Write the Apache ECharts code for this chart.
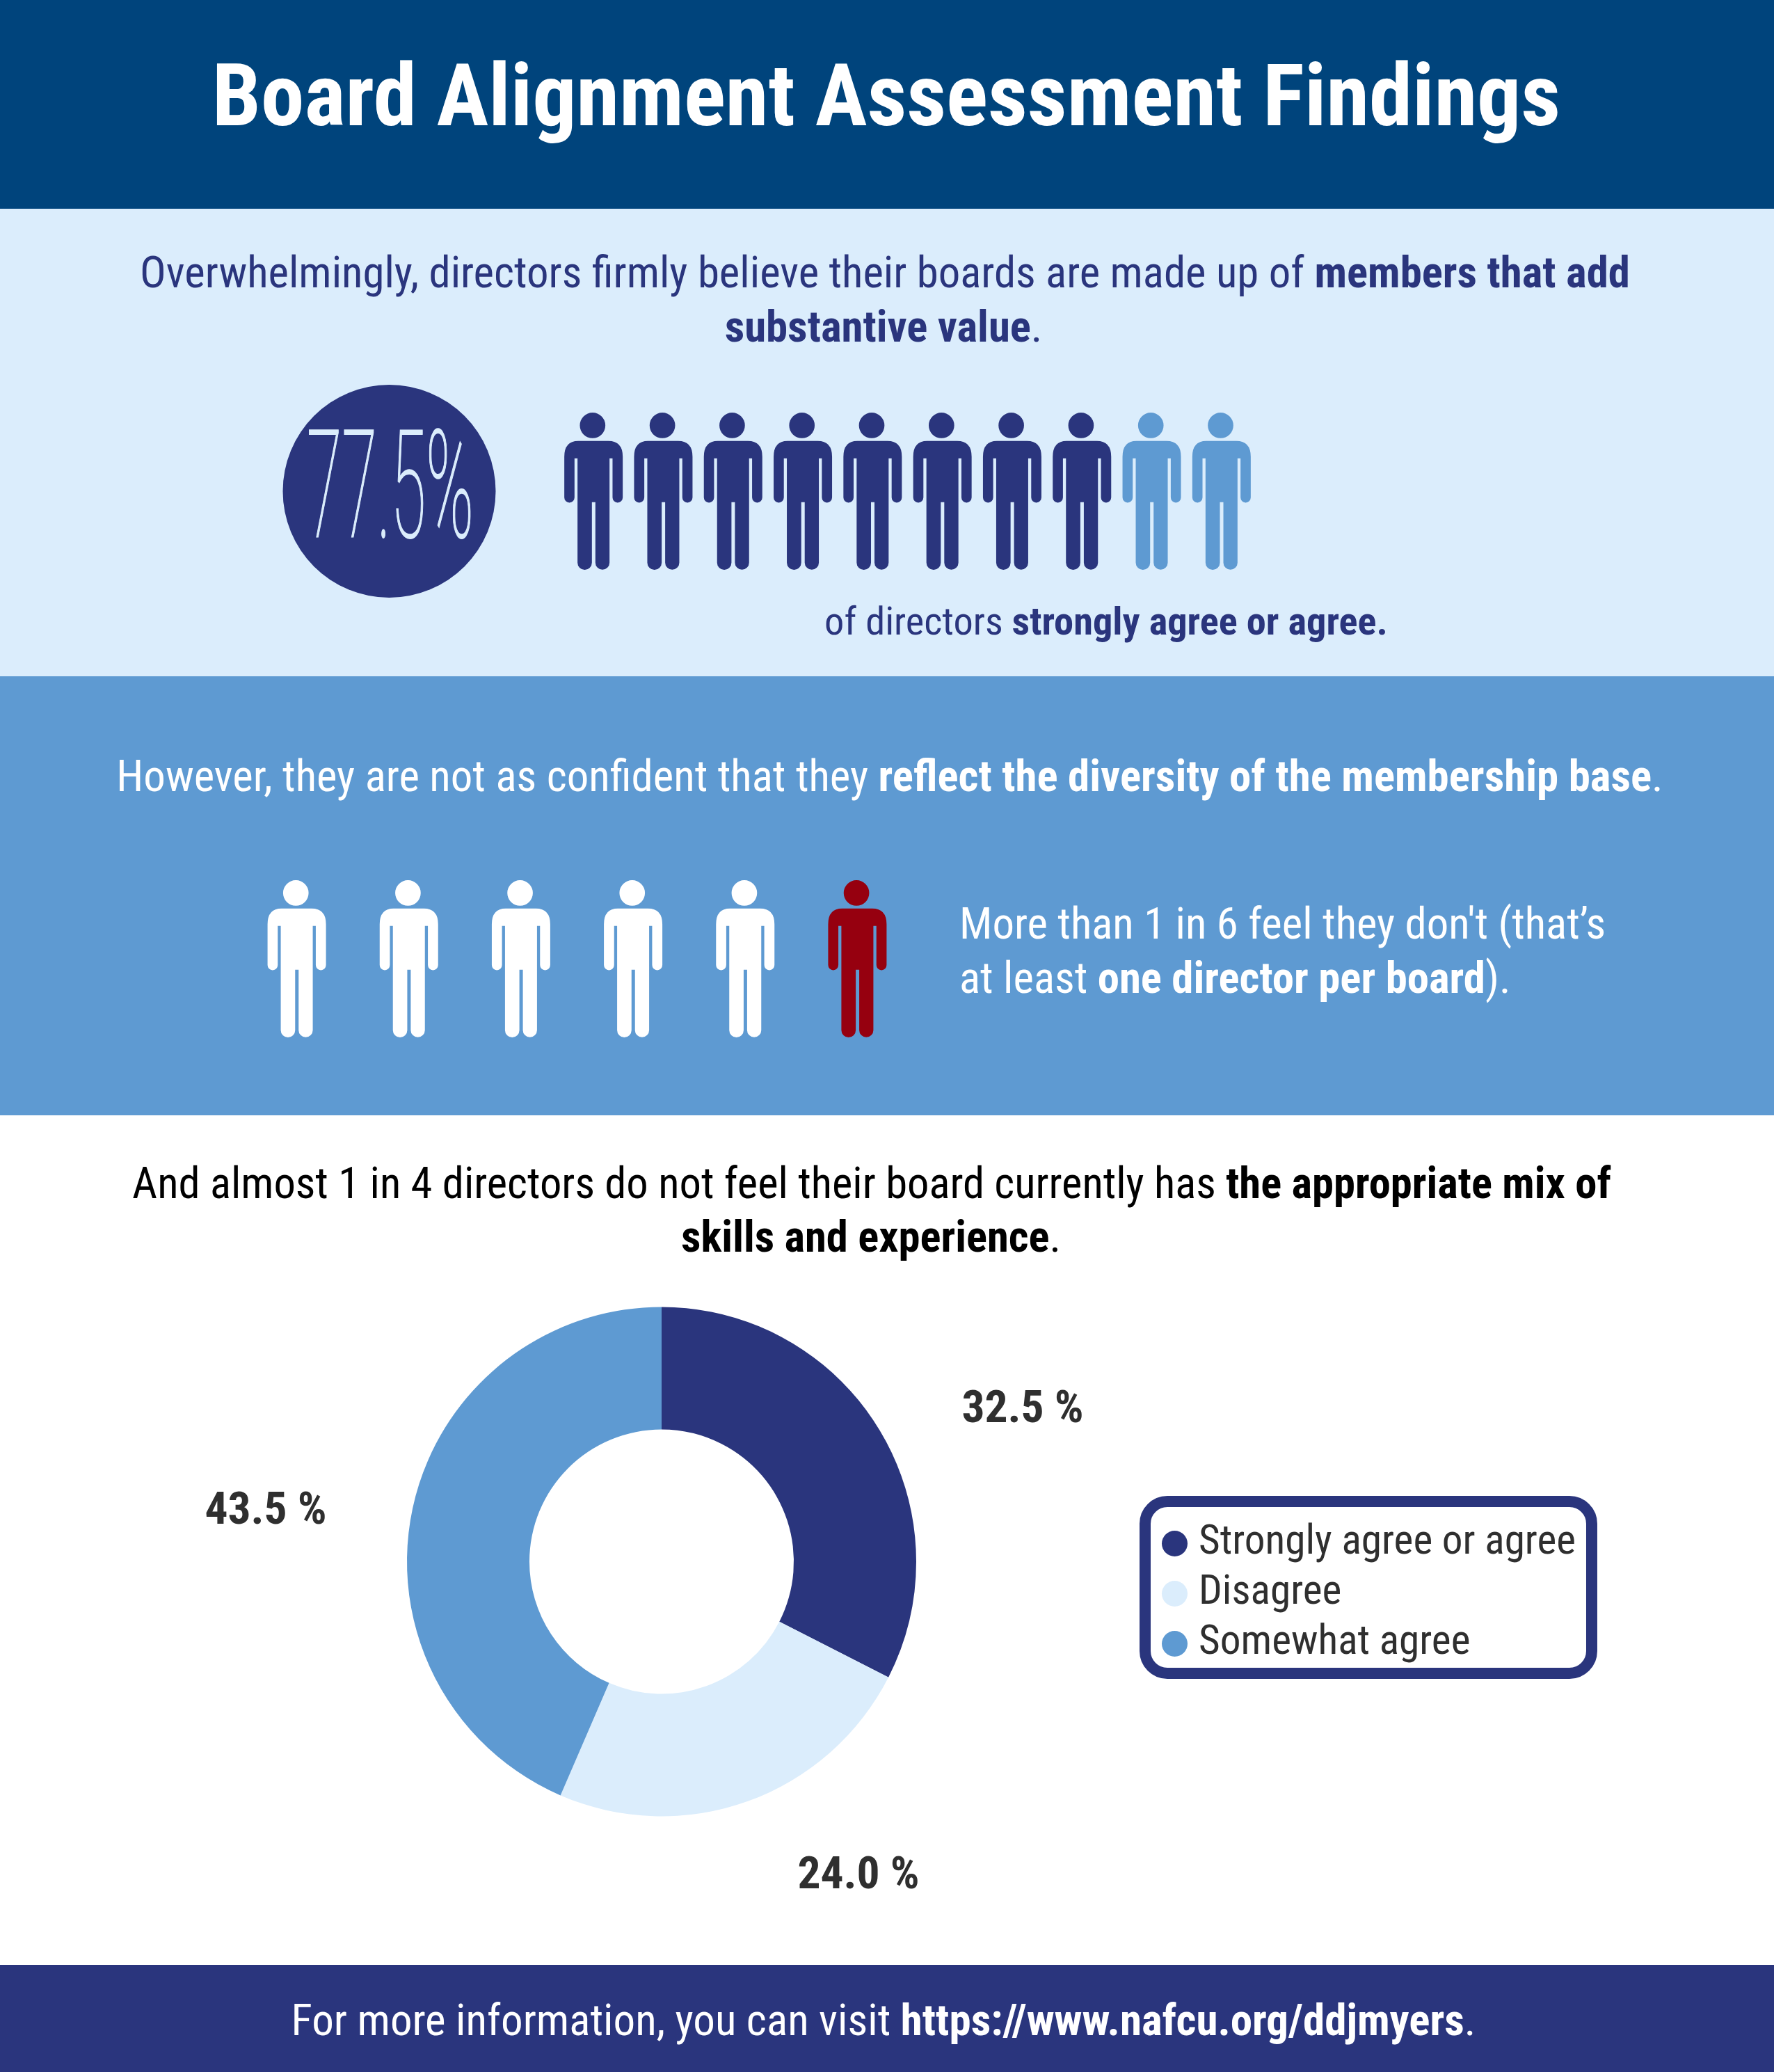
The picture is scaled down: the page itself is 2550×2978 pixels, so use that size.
<!DOCTYPE html>
<html lang="en">
<head>
<meta charset="utf-8" />
<title>Board Alignment Assessment Findings</title>
<script src="https://cdn.jsdelivr.net/npm/echarts@6/dist/echarts.min.js"></script>
</head>
<body style="margin:0;background:#fff">
<div id="chart" style="width:2550px;height:2978px"></div>
<script>
// colours
const HEADER = '#00447c', NAVY = '#2a357d', PALE = '#dbedfc', MID = '#5e9ad2', RED = '#96000f', INK = '#2f2f2f'

// donut
const answerNames = ['Strongly agree or agree', 'Disagree', 'Somewhat agree']
const answerValues = [32.5, 24.0, 43.5]
const answerColors = [NAVY, PALE, MID]
const answerLabelAt = [[1470, 2022], [1234, 2692], [382, 2168]]

// people rows, one slot per person
const valueSlots = ['1', '2', '3', '4', '5', '6', '7', '8', '9', '10']
const valueAgree = [1, 1, 1, 1, 1, 1, 1, 1, null, null]
const valueOther = [null, null, null, null, null, null, null, null, 1, 1]
const diversitySlots = ['1', '2', '3', '4', '5', '6']
const diversityYes = [1, 1, 1, 1, 1, null]
const diversityNo = [null, null, null, null, null, 1]

const statText = '77.5%'

// same figure for all people, drawn in a 252 x 675 box
const PERSON = 'path://M122 0a55 55 0 1 1 0 110a55 55 0 1 1 0-110zM60 122H190Q252 122 252 190V365A22 22 0 0 1 208 365V197H195V645A30.5 30.5 0 0 1 134 645V385H119V645A30.5 30.5 0 0 1 57 645V197H44V365A22 22 0 0 1 0 365V190Q0 122 60 122z'

const FONT = 'Roboto'
function textLine(x, y, parts, size, color, align) {
    let rich = {
        n: { fontFamily: FONT, fontStyle: 'condensed', fontWeight: 400, fontSize: size, fill: color, color: color },
        b: { fontFamily: FONT, fontStyle: 'condensed', fontWeight: 700, fontSize: size, fill: color, color: color }
    }
    return {
        type: 'text', z: 10, silent: true,
        style: {
            x: x, y: y, align: align || 'center', verticalAlign: 'middle',
            text: parts.map(p => '{' + p[0] + '|' + p[1] + '}').join(''),
            rich: rich, fill: color
        }
    }
}
function band(y, h, color) {
    return { type: 'rect', z: 0, silent: true, shape: { x: 0, y: y, width: 2550, height: h }, style: { fill: color } }
}

function peopleSeries(index, data, color) {
    return {
        type: 'pictorialBar', xAxisIndex: index, yAxisIndex: index, data: data,
        symbol: PERSON, symbolSize: [84, 226], symbolPosition: 'start', barGap: '-100%',
        itemStyle: { color: color }, silent: true, z: 5
    }
}

const chart = echarts.init(document.getElementById('chart'), null, { width: 2550, height: 2978 })
chart.setOption({
    animation: false,
    backgroundColor: '#fff',
    grid: [
        { left: 803, top: 593, width: 1003, height: 226 },
        { left: 346, top: 1265, width: 967, height: 226 }
    ],
    xAxis: [
        { type: 'category', gridIndex: 0, data: valueSlots, show: false },
        { type: 'category', gridIndex: 1, data: diversitySlots, show: false }
    ],
    yAxis: [
        { type: 'value', gridIndex: 0, min: 0, max: 1, show: false },
        { type: 'value', gridIndex: 1, min: 0, max: 1, show: false }
    ],
    legend: {
        orient: 'vertical', left: 1646, top: 2158,
        padding: [31, 23, 13, 24], itemGap: 13, itemWidth: 37, itemHeight: 37, icon: 'circle',
        backgroundColor: '#fff', borderColor: NAVY, borderWidth: 16, borderRadius: 32,
        data: answerNames, selectedMode: false,
        textStyle: { fontFamily: FONT, fontStyle: 'condensed', fontSize: 59.3, color: INK, padding: [0, 0, 0, 11], lineHeight: 37 }
    },
    series: [
        peopleSeries(0, valueAgree, NAVY),
        peopleSeries(0, valueOther, MID),
        peopleSeries(1, diversityYes, '#fff'),
        peopleSeries(1, diversityNo, RED),
        {
            type: 'pie', center: [951, 2244.5], radius: [190, 366], startAngle: 90, silent: true,
            data: answerNames.map((n, i) => ({ name: n, value: answerValues[i], itemStyle: { color: answerColors[i] } })),
            label: {
                show: true, position: 'outside',
                formatter: p => p.value.toFixed(1) + ' %',
                fontFamily: FONT, fontStyle: 'condensed', fontWeight: 700, fontSize: 65.5, color: INK
            },
            labelLine: { show: false },
            labelLayout: p => ({
                x: answerLabelAt[p.dataIndex][0], y: answerLabelAt[p.dataIndex][1] + 6,
                align: 'center', verticalAlign: 'middle'
            })
        }
    ],
    graphic: [
        band(0, 300, HEADER),
        band(300, 672, PALE),
        band(972, 631, MID),
        band(2824, 154, NAVY),
        { type: 'circle', z: 4, silent: true, shape: { cx: 559.5, cy: 706, r: 153 }, style: { fill: NAVY } },
        {
            type: 'text', z: 10, silent: true, x: 561, y: 718, scaleX: 0.429, originX: 0, originY: 0,
            style: { x: 0, y: 0, align: 'center', verticalAlign: 'middle', text: statText, fontFamily: FONT, fontWeight: 100, fontSize: 215, fill: PALE, stroke: PALE, lineWidth: 2 }
        },
        textLine(1274, 149, [['b', 'Board Alignment Assessment Findings']], 125.2, '#fff'),
        textLine(1272, 397, [['n', 'Overwhelmingly, directors firmly believe their boards are made up of '], ['b', 'members that add']], 62.8, NAVY),
        textLine(1270, 475, [['b', 'substantive value'], ['n', '.']], 62.8, NAVY),
        textLine(1590, 898, [['n', 'of directors '], ['b', 'strongly agree or agree.']], 56.4, NAVY),
        textLine(1279, 1121, [['n', 'However, they are not as confident that they '], ['b', 'reflect the diversity of the membership base'], ['n', '.']], 62.9, '#fff'),
        textLine(1379, 1333, [['n', 'More than 1 in 6 feel they don\'t (that\u2019s']], 62.8, '#fff', 'left'),
        textLine(1379, 1411, [['n', 'at least '], ['b', 'one director per board'], ['n', ').']], 62.8, '#fff', 'left'),
        textLine(1253, 1706, [['n', 'And almost 1 in 4 directors do not feel their board currently has '], ['b', 'the appropriate mix of']], 62.6, '#000'),
        textLine(1252, 1783, [['b', 'skills and experience'], ['n', '.']], 62.6, '#000'),
        textLine(1270, 2909, [['n', 'For more information, you can visit '], ['b', 'https://www.nafcu.org/ddjmyers'], ['n', '.']], 63, '#fff')
    ]
})
</script>
</body>
</html>
